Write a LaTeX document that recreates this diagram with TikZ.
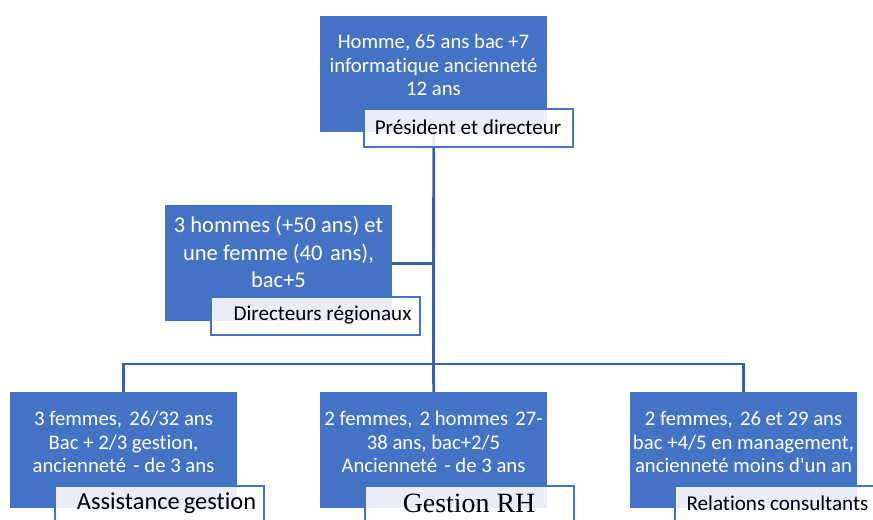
\documentclass[tikz,border=0pt]{standalone}
\usepackage{fontspec}
\setmainfont{Carlito}[Ligatures=NoCommon]
\newfontfamily\rhfont{Liberation Serif}
\usetikzlibrary{
    positioning,
    backgrounds
}
\definecolor{orgblue}{HTML}{4472C4}
\definecolor{linkblue}{HTML}{3A5FA8}
\newcommand{\gap}{\hspace{2.5bp}}
\tikzset{
    infobox/.style={fill=orgblue, minimum width=227bp, minimum height=116bp, anchor=north west, inner sep=0pt},
    infotext/.style={text=white, align=center, inner sep=0pt, font=\fontsize{20.8}{23.5}\selectfont},
    rolebox/.style={draw=orgblue, line width=2bp, fill=white, fill opacity=0.88, text opacity=1, minimum width=209bp, minimum height=38bp, anchor=north west, inner sep=0pt},
    roletext/.style={text=black, inner sep=0pt, font=\fontsize{21.2}{24}\selectfont},
    link/.style={draw=linkblue, line width=2.8bp}
}

\begin{document}
\begin{tikzpicture}[x=1bp, y=-1bp]
                                \useasboundingbox (0,0) rectangle (873,520);
                                % president
                                \node[infobox] (pres) at (320,16) {};
                                \node[infotext] (presinfo) at (433.5,65) {Homme, 65 ans bac +7\\informatique ancienneté\\12 ans};
                                \node[rolebox] (presrole) at (363,108) {};
                                \node[roletext] (presname) at (468,127) {Président et directeur};
                                % directeurs
                                \node[infobox] (dir) at (165,205) {};
                                \node[infotext, font=\fontsize{22.6}{27.5}\selectfont] (dirinfo) at (278.5,252) {3 hommes (+50 ans) et\\une femme (40\gap{} ans),\\bac+5};
                                \node[rolebox] (dirrole) at (210,296) {};
                                \node[roletext] (dirname) at (322.5,315) {Directeurs régionaux};
                                % bottom row
                                \node[infobox] (asst) at (10,392) {};
                                \node[infotext] (asstinfo) at (123.5,442) {3 femmes,\gap{} 26/32 ans\\Bac + 2/3 gestion,\\ancienneté\gap{} - de 3 ans};
                                \node[rolebox] (asstrole) at (54,485) {};
                                \node[roletext, font=\fontsize{24.5}{26}\selectfont] (asstname) at (166.5,503) {Assistance\,gestion};
                                \node[infobox] (rh) at (320,392) {};
                                \node[infotext] (rhinfo) at (433.5,442) {2 femmes,\gap{} 2 hommes\gap{} 27-\\38 ans, bac+2/5\\Ancienneté\gap{} - de 3 ans};
                                \node[rolebox] (rhrole) at (364,485) {};
                                \node[roletext, font=\rhfont\fontsize{28}{30}\selectfont] (rhname) at (469,503) {Gestion RH};
                                \node[infobox] (cons) at (630,392) {};
                                \node[infotext] (consinfo) at (743.5,442) {2 femmes,\gap{} 26 et 29 ans\\bac +4/5 en management,\\ancienneté moins d\textquotesingle un an};
                                \node[rolebox] (consrole) at (674,485) {};
                                \node[roletext] (consname) at (777.5,503) {Relations consultants};
                                % connectors
                                \coordinate (hub) at (433.5,364);
                                \begin{scope}[on background layer]
                                \draw[link] (pres.south) -- (hub);
                                \draw[link] (dir.east) -- (dir.east -| hub);
                                \draw[link] (asst.north) |- (hub) -| (cons.north);
                                \draw[link] (hub) -- (rh.north);
                                \end{scope}
                            \end{tikzpicture}
\end{document}
